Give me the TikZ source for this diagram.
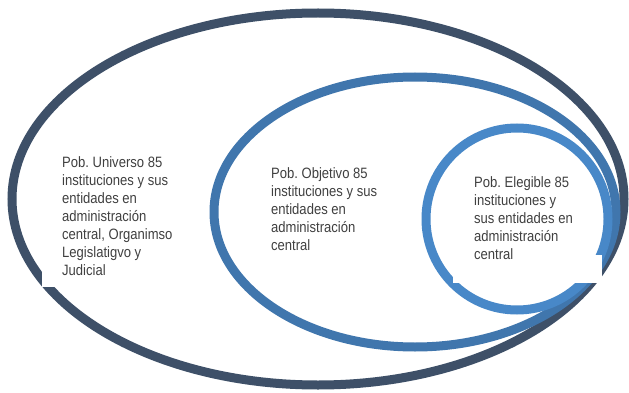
\documentclass[tikz,border=0pt]{standalone}
\usepackage{fontspec}
\setmainfont{Liberation Sans}[FakeStretch=0.87]
\usepackage{tikz}
\definecolor{ringouter}{RGB}{62,80,104}
\definecolor{ringmid}{RGB}{64,118,173}
\definecolor{ringinner}{RGB}{72,136,200}
\definecolor{txtgray}{RGB}{64,64,64}

\begin{document}
\begin{tikzpicture}[x=1pt,y=-1pt,
  ring/.style={line width=9pt},
  lbl/.style={anchor=base west,align=left,inner sep=0pt,text=txtgray,
    font=\fontsize{15}{18}\selectfont}]
 \useasboundingbox[fill=white] (0,0) rectangle (629,393);
 % populations, outermost first
 \draw [ring,ringouter] (318,199) ellipse [x radius=306,y radius=186];
 \draw [ring,ringmid] (415,212) ellipse [x radius=201,y radius=135];
 \draw [ring,ringinner] (517,219) circle [radius=91];
 % cuts left by the text boxes
 \fill [white] (42,200) rectangle (200,287);
 \fill [white] (453,255) rectangle (602,283);
 % base anchor = last line
 \node [lbl] (universo) at (62,275) {Pob.\ Universo 85\\instituciones y sus\\entidades en\\administración\\central, Organimso\\Legislatigvo y\\Judicial};
 \node [lbl] (objetivo) at (271,250) {Pob.\ Objetivo 85\\instituciones y sus\\entidades en\\administración\\central};
 \node [lbl] (elegible) at (474,259) {Pob.\ Elegible 85\\instituciones y\\sus entidades en\\administración\\central};
\end{tikzpicture}
\end{document}
